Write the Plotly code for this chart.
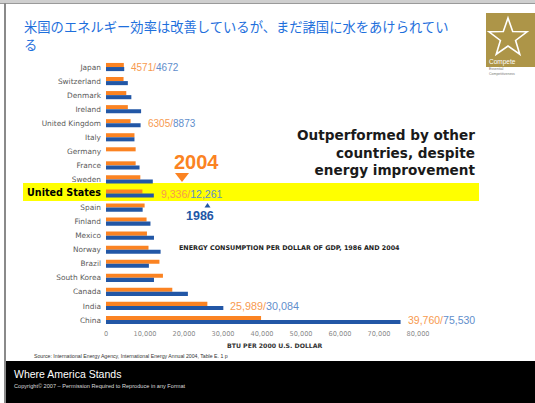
import math
import plotly.graph_objects as go

# Energy use per dollar of GDP (BTU per 2000 US$), 2004 vs 1986
countries = ["Japan", "Switzerland", "Denmark", "Ireland", "United Kingdom", "Italy",
             "Germany", "France", "Sweden", "United States", "Spain", "Finland",
             "Mexico", "Norway", "Brazil", "South Korea", "Canada", "India", "China"]
btu_2004 = [4571, 4500, 5200, 5600, 6305, 7300, 7600, 7600, 8800, 9336, 9900, 10400,
            10500, 10900, 13700, 14600, 17000, 25989, 39760]
btu_1986 = [4672, 5600, 6500, 9000, 8873, 7300, None, 8600, 12000, 12261, 9400, 11400,
            12300, 14000, 11000, 12300, 21000, 30084, 75530]
# countries whose values are printed next to their bars, and whether thousands are comma-grouped
labelled = {"Japan": False, "United Kingdom": False, "United States": True,
            "India": True, "China": True}
x_ticks = [0, 10000, 20000, 30000, 40000, 50000, 60000, 70000, 80000]

ORANGE = "#fb8322"
BLUE = "#2257a6"

W, H = 535, 403
L, R, T, B = 106, 117, 60, 76
PW, PH = W - L - R, H - T - B


def px(x):
    return (x - L) / PW


def py(y):
    return 1 - (y - T) / PH


fig = go.Figure()
fig.add_trace(go.Bar(y=countries, x=btu_2004, orientation="h", name="2004",
                     marker=dict(color=ORANGE, line=dict(width=0))))
fig.add_trace(go.Bar(y=countries, x=btu_1986, orientation="h", name="1986",
                     marker=dict(color=BLUE, line=dict(width=0))))

ticktext = []
for c in countries:
    if c == "United States":
        ticktext.append('<span style="color:#000000;font-size:9.6px"><b>United States</b></span>')
    else:
        ticktext.append(c)

fig.update_layout(
    width=W, height=H,
    margin=dict(l=L, r=R, t=T, b=B),
    paper_bgcolor="white", plot_bgcolor="rgba(0,0,0,0)",
    barmode="group", bargap=0.42, bargroupgap=0,
    showlegend=False,
    font=dict(family="Liberation Sans, Arial, sans-serif"),
    xaxis=dict(range=[0, 80000], tickvals=x_ticks,
               ticktext=[f"{v:,}" for v in x_ticks],
               tickfont=dict(size=6.6, color="#8a8a8a", family="DejaVu Sans"),
               showgrid=False, zeroline=False, showline=False, ticks="",
               ticklabelstandoff=1),
    yaxis=dict(type="category", categoryarray=countries, range=[18.5, -0.5],
               tickvals=countries, ticktext=ticktext,
               tickfont=dict(size=7.4, color="#5a5a5a", family="DejaVu Sans"),
               showgrid=False, zeroline=False, showline=False, ticks="",
               ticklabelstandoff=4),
)

shapes = []
# window frame
shapes.append(dict(type="rect", xref="paper", yref="paper", x0=px(0), x1=px(W),
                   y0=py(3), y1=py(0), fillcolor="#cfcfcf", line=dict(width=0), layer="below"))
shapes.append(dict(type="line", xref="paper", yref="paper", x0=px(0), x1=px(W),
                   y0=py(3.5), y1=py(3.5), line=dict(color="#9a9a9a", width=1)))
shapes.append(dict(type="line", xref="paper", yref="paper", x0=px(5), x1=px(5),
                   y0=py(3), y1=py(H), line=dict(color="#8a8a8a", width=2)))
# highlight band for the United States
shapes.append(dict(type="rect", xref="paper", yref="paper", x0=px(23), x1=px(479),
                   y0=py(201), y1=py(183), fillcolor="#ffff00", line=dict(width=0), layer="below"))
# year markers
shapes.append(dict(type="path", xref="paper", yref="paper",
                   path=f"M {px(175)},{py(173)} L {px(189)},{py(173)} L {px(182)},{py(182)} Z",
                   fillcolor=ORANGE, line=dict(width=0)))
shapes.append(dict(type="path", xref="paper", yref="paper",
                   path=f"M {px(204.5)},{py(207.5)} L {px(210.5)},{py(207.5)} L {px(207.5)},{py(203)} Z",
                   fillcolor=BLUE, line=dict(width=0)))
# footer band
shapes.append(dict(type="rect", xref="paper", yref="paper", x0=px(6), x1=px(W),
                   y0=py(H), y1=py(361), fillcolor="#000000", line=dict(width=0)))
# logo block
shapes.append(dict(type="rect", xref="paper", yref="paper", x0=px(486), x1=px(W),
                   y0=py(67), y1=py(13), fillcolor="#ad9548", line=dict(width=0)))
cx, cy, ro, ri = 508, 38, 20, 8
pts = []
for k in range(10):
    r = ro if k % 2 == 0 else ri
    a = -math.pi / 2 + k * math.pi / 5
    pts.append((cx + r * math.cos(a), cy + r * math.sin(a)))
star = "M " + " L ".join(f"{px(x)},{py(y)}" for x, y in pts) + " Z"
shapes.append(dict(type="path", xref="paper", yref="paper", path=star,
                   line=dict(color="white", width=1.6), fillcolor="rgba(0,0,0,0)"))
fig.update_layout(shapes=shapes)

ann = []


def text(x, y, s, size, color, xanchor="left", yanchor="middle", family=None,
         align="left"):
    d = dict(xref="paper", yref="paper", x=px(x), y=py(y), text=s, showarrow=False,
             xanchor=xanchor, yanchor=yanchor, align=align,
             font=dict(size=size, color=color))
    if family:
        d["font"]["family"] = family
    ann.append(d)


text(22, 27, "米国のエネルギー効率は改善しているが、まだ諸国に水をあけられてい",
     13.3, "#1e6fdc", family="Noto Sans CJK JP")
text(22, 44.5, "る", 13.3, "#1e6fdc", family="Noto Sans CJK JP")
text(477, 152, "<b>Outperformed by other<br>countries, despite<br>energy improvement</b>",
     13.6, "#1a1a1a", xanchor="right", align="right", family="DejaVu Sans")
text(196, 162, "<b>2004</b>", 20, ORANGE, xanchor="center")
text(199.5, 215.5, "<b>1986</b>", 12.5, BLUE, xanchor="center")
text(289, 248, "<b>ENERGY CONSUMPTION PER DOLLAR OF GDP, 1986 AND 2004</b>", 6.4,
     "#222222", xanchor="center", family="DejaVu Sans")
text(275, 345, "<b>BTU PER 2000 U.S. DOLLAR</b>", 6.2, "#333333", xanchor="center",
     family="DejaVu Sans")
text(32, 356, "Source: International Energy Agency, International Energy Annual 2004, Table E. 1 p",
     5.2, "#333333")
text(12, 374, "Where America Stands", 10.5, "#ffffff")
text(12, 386, "Copyright© 2007 – Permission Required to Reproduce in any Format", 5.6, "#dddddd")
text(487, 62, "Compete", 6.5, "#ffffff")
text(487, 71, "Essential<br>Competitiveness", 3.5, "#777777")

# value labels next to selected bars
label_size = {"Japan": 10, "United Kingdom": 10, "United States": 10.5, "India": 10.8, "China": 10.5}
for c, grouped in labelled.items():
    i = countries.index(c)
    a, b = btu_2004[i], btu_1986[i]
    fa = f"{a:,}" if grouped else str(a)
    fb = f"{b:,}" if grouped else str(b)
    ann.append(dict(xref="x", yref="y", x=max(a, b), y=c, xanchor="left", xshift=5,
                    showarrow=False,
                    text=f'<span style="color:#f79a4f">{fa}/</span><span style="color:#5f8ecb">{fb}</span>',
                    font=dict(size=label_size[c])))

fig.update_layout(annotations=ann)
fig.write_html("out.html")
